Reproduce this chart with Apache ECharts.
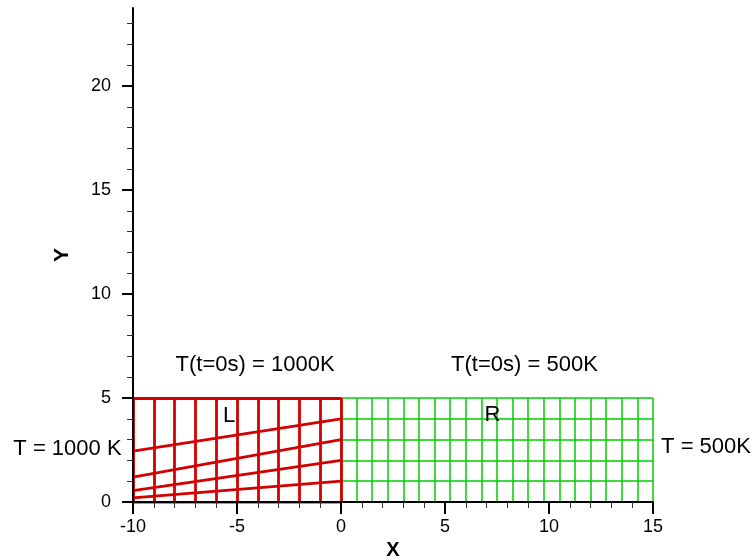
<!DOCTYPE html>
<html>
<head>
<meta charset="utf-8">
<script src="https://cdn.jsdelivr.net/npm/echarts@6/dist/echarts.min.js"></script>
<style>
  html, body { margin: 0; padding: 0; background: #fff; }
  #chart { width: 755px; height: 560px; }
</style>
</head>
<body>
<div id="chart"></div>
<script>
// Block L: column positions, row heights along its left edge (x = -10) and right edge (x = 0)
const leftColumns = [-10, -9, -8, -7, -6, -5, -4, -3, -2, -1, 0];
const leftRowsAtLeftEdge = [0, 0.2, 0.55, 1.2, 2.45, 5];
const leftRowsAtRightEdge = [0, 1, 2, 3, 4, 5];

// Block R: uniform mesh
const rightColumns = [0, 0.75, 1.5, 2.25, 3, 3.75, 4.5, 5.25, 6, 6.75, 7.5,
                      8.25, 9, 9.75, 10.5, 11.25, 12, 12.75, 13.5, 14.25, 15];
const rightRows = [0, 1, 2, 3, 4, 5];

// Y axis ticks
const yMajorTicks = [0, 5, 10, 15, 20];
const yMinorTicks = [1, 2, 3, 4, 6, 7, 8, 9, 11, 12, 13, 14, 16, 17, 18, 19, 21, 22, 23];

// Annotations
const annotationTexts = ['T(t=0s) = 1000K', 'T(t=0s) = 500K', 'L', 'R', 'T = 1000 K', 'T = 500K'];
const annotationAnchors = [[-4.13, 6.6], [8.82, 6.6], [-5.38, 4.16], [7.28, 4.2], [-13.15, 2.55], [17.55, 2.67]];

const FONT = "'Liberation Sans', Arial, Helvetica, sans-serif";

// Mesh segments for block L
const leftBottom = leftRowsAtLeftEdge[0];
const leftTop = leftRowsAtLeftEdge[leftRowsAtLeftEdge.length - 1];
const leftX0 = leftColumns[0];
const leftX1 = leftColumns[leftColumns.length - 1];
const leftSegments = [];
leftColumns.forEach(x => leftSegments.push({ coords: [[x, leftBottom], [x, leftTop]] }));
leftRowsAtLeftEdge.forEach((y, i) =>
  leftSegments.push({ coords: [[leftX0, y], [leftX1, leftRowsAtRightEdge[i]]] }));

// Mesh segments for block R
const rX0 = rightColumns[0], rX1 = rightColumns[rightColumns.length - 1];
const rY0 = rightRows[0], rY1 = rightRows[rightRows.length - 1];
const rightSegments = [];
rightColumns.forEach(x => rightSegments.push({ coords: [[x, rY0], [x, rY1]] }));
rightRows.forEach(y => rightSegments.push({ coords: [[rX0, y], [rX1, y]] }));

const annotationData = annotationTexts.map((t, i) => ({ name: t, value: annotationAnchors[i] }));

const chart = echarts.init(document.getElementById('chart'), null, { renderer: 'canvas' });

chart.setOption({
  animation: false,
  backgroundColor: '#ffffff',
  textStyle: { fontFamily: FONT },
  grid: { left: 133, right: 102, top: 8, bottom: 58, containLabel: false, outerBoundsMode: 'none' },
  xAxis: {
    type: 'value',
    min: -10, max: 15, interval: 5,
    z: 5,
    name: 'X', nameLocation: 'middle', nameGap: 38,
    nameTextStyle: { fontFamily: FONT, fontSize: 20, fontWeight: 'bold', color: '#000' },
    axisLine: { show: true, onZero: false, lineStyle: { color: '#000', width: 2 } },
    axisTick: { show: true, inside: false, length: 12, lineStyle: { color: '#000', width: 2 } },
    minorTick: { show: true, splitNumber: 5, length: 6, lineStyle: { color: '#333', width: 1 } },
    axisLabel: { fontFamily: FONT, fontSize: 18, color: '#000', margin: 16 },
    splitLine: { show: false },
    minorSplitLine: { show: false }
  },
  yAxis: [
    {
      type: 'value',
      min: 0, max: 23.75,
      position: 'left',
      z: 5,
      name: 'Y', nameLocation: 'middle', nameGap: 60,
      nameTextStyle: { fontFamily: FONT, fontSize: 21, fontWeight: 'bold', color: '#000' },
      axisLine: { show: true, onZero: false, lineStyle: { color: '#000', width: 2 } },
      axisTick: { show: true, inside: false, length: 11, customValues: yMajorTicks, lineStyle: { color: '#000', width: 2 } },
      axisLabel: { fontFamily: FONT, fontSize: 18, color: '#000', margin: 22, customValues: yMajorTicks },
      splitLine: { show: false }
    },
    {
      type: 'value',
      min: 0, max: 23.75,
      position: 'left',
      offset: 0,
      z: 5,
      axisLine: { show: false, onZero: false },
      axisTick: { show: true, inside: false, length: 6, customValues: yMinorTicks, lineStyle: { color: '#333', width: 1 } },
      axisLabel: { show: false },
      splitLine: { show: false }
    }
  ],
  series: [
    {
      name: 'R',
      type: 'lines',
      coordinateSystem: 'cartesian2d',
      polyline: false,
      silent: true,
      z: 2,
      lineStyle: { color: '#00cc00', width: 1.5, opacity: 1 },
      data: rightSegments
    },
    {
      name: 'L',
      type: 'lines',
      coordinateSystem: 'cartesian2d',
      polyline: false,
      silent: true,
      z: 3,
      lineStyle: { color: '#d20000', width: 2.8, opacity: 1 },
      data: leftSegments
    },
    {
      name: 'annotations',
      type: 'scatter',
      clip: false,
      silent: true,
      symbolSize: 0,
      z: 6,
      itemStyle: { opacity: 1 },
      label: {
        show: true,
        position: 'inside',
        formatter: p => p.name,
        fontFamily: FONT,
        fontSize: 22,
        color: '#000',
        opacity: 1
      },
      data: annotationData
    }
  ]
});
</script>
</body>
</html>
